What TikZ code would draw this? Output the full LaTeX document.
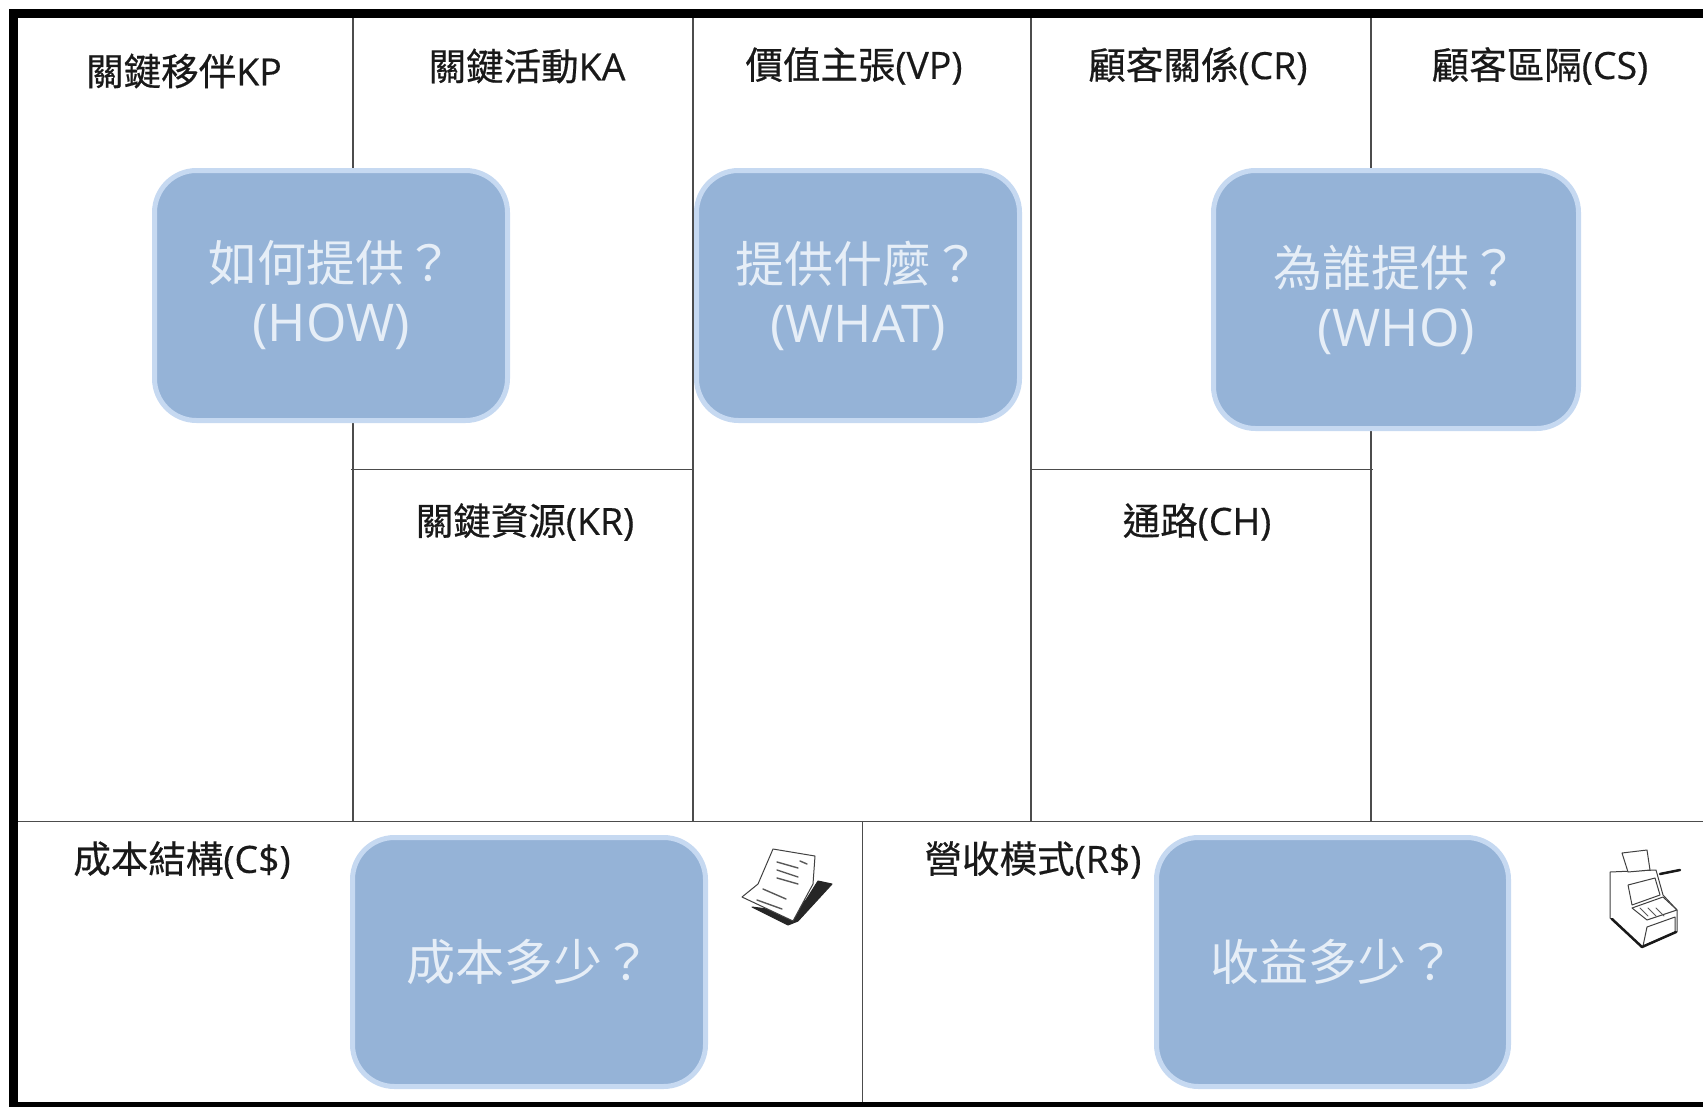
\documentclass[tikz,border=0pt]{standalone}
\usepackage{fontspec}
\setmainfont{Open Sans}
\newfontfamily\cjk{Noto Sans CJK TC}
\newfontfamily\cjkhead[FakeBold=0.5]{Noto Sans CJK TC}
\newfontfamily\latinhead[FakeBold=0.4]{Open Sans}
\newcommand{\asklatin}{\fontsize{52}{60}\selectfont}
\definecolor{boxfill}{HTML}{95B3D7}
\definecolor{boxedge}{HTML}{C6D9F1}
\definecolor{boxtext}{HTML}{E6EEF7}
\tikzset{
  gridline/.style={line width=1.6pt, draw=black!70},
  frameline/.style={line width=8.5pt, draw=black},
  cell/.style={inner sep=0pt, font=\fontsize{37.5}{40}\selectfont\latinhead, text=black!90},
  ask/.style={draw=boxedge, fill=boxfill, line width=5pt, rounded corners=42pt, align=center,
    text=boxtext, inner sep=0pt, font=\fontsize{49}{60}\selectfont},
  icon/.style={line width=1pt, draw=black!75, fill=white, line join=round},
  iconfill/.style={draw=black!85, fill=black!85, line width=1pt, line join=round},
  iconbase/.style={draw=black!90, line width=2.5pt, line join=round, line cap=round},
  inkline/.style={line width=1.4pt, draw=black!65, line cap=round}
}
\begin{document}
\begin{tikzpicture}[x=1pt,y=-1pt]
  \useasboundingbox (0,0) rectangle (1703,1106);
  % grid
  \draw[gridline] (353,13) -- (353,821);
  \draw[gridline] (693,13) -- (693,821);
  \draw[gridline] (1031,13) -- (1031,821);
  \draw[gridline] (1371,13) -- (1371,821);
  \draw[gridline] (351,469.5) -- (693,469.5);
  \draw[gridline] (1031,469.5) -- (1373,469.5);
  \draw[gridline] (13,821.5) -- (1703,821.5);
  \draw[gridline] (862.5,821) -- (862.5,1104);
  \draw[frameline] (1710,13.5) -- (13.5,13.5) -- (13.5,1106.5) -- (1710,1106.5);
  % headings
  \node[cell] (kp) at (184,71) {{\cjkhead 關鍵移伴}KP};
  \node[cell] (ka) at (527,66) {{\cjkhead 關鍵活動}KA};
  \node[cell] (vp) at (854,66) {{\cjkhead 價值主張}(VP)};
  \node[cell] (cr) at (1198,66) {{\cjkhead 顧客關係}(CR)};
  \node[cell] (cs) at (1540,66) {{\cjkhead 顧客區隔}(CS)};
  \node[cell] (kr) at (525,522) {{\cjkhead 關鍵資源}(KR)};
  \node[cell] (ch) at (1197,522) {{\cjkhead 通路}(CH)};
  \node[cell] (cost) at (182,860) {{\cjkhead 成本結構}(C\$)};
  \node[cell] (rev) at (1033,860) {{\cjkhead 營收模式}(R\$)};
  % question boxes
  \node[ask, minimum width=353pt, minimum height=250pt] (how) at (331,295.5) {{\cjk 如何提供？}\\{\asklatin (HOW)}};
  \node[ask, minimum width=323pt, minimum height=250pt] (what) at (858,295.5) {{\cjk 提供什麼？}\\{\asklatin (WHAT)}};
  \node[ask, minimum width=365pt, minimum height=258pt] (who) at (1396,299.5) {{\cjk 為誰提供？}\\{\asklatin (WHO)}};
  \node[ask, minimum width=353pt, minimum height=249pt] (howmuch) at (529,962) {\cjk 成本多少？};
  \node[ask, minimum width=352pt, minimum height=249pt] (income) at (1332.5,962) {\cjk 收益多少？};
  % paper icon
  \fill[iconfill] (752,907) -- (788,925) -- (798,921) -- (832,884) -- (818,881) -- (806,900) -- (790,912) -- cycle;
  \draw[icon] (773,849) -- (815,856) -- (813,884) -- (793,921) -- (742,897) -- (758,884) -- cycle;
  \foreach \ya/\yb in {862/868,870/877,878/884}
    \draw[inkline] (777,\ya) -- (798,\yb);
  \draw[inkline] (763,889) -- (786,899);
  \draw[inkline] (757,900) -- (782,909);
  \draw[inkline] (800,861) -- (807,864);
  % cash register icon
  \draw[icon] (1610,872) -- (1610,918) -- (1642,947) -- (1677,932) -- (1677,910) -- (1663,895) -- (1656,870) -- cycle;
  \draw[icon] (1622,853) -- (1647,850) -- (1650,870) -- (1628,872) -- cycle;
  \draw[icon] (1628,885) -- (1655,878) -- (1660,895) -- (1632,905) -- cycle;
  \draw[icon] (1632,908) -- (1663,897) -- (1677,910) -- (1647,920) -- cycle;
  \draw[icon] (1647,927) -- (1675,917) -- (1675,932) -- (1643,946) -- cycle;
  \foreach \xa/\xb in {1640/1648,1648/1656,1656/1664}
    \draw[inkline, line width=1pt] (\xa,908) -- (\xb,916);
  \draw[iconbase] (1612,919) -- (1642,947) -- (1676,932);
  \draw[iconbase] (1660,874) -- (1680,870);
\end{tikzpicture}
\end{document}
